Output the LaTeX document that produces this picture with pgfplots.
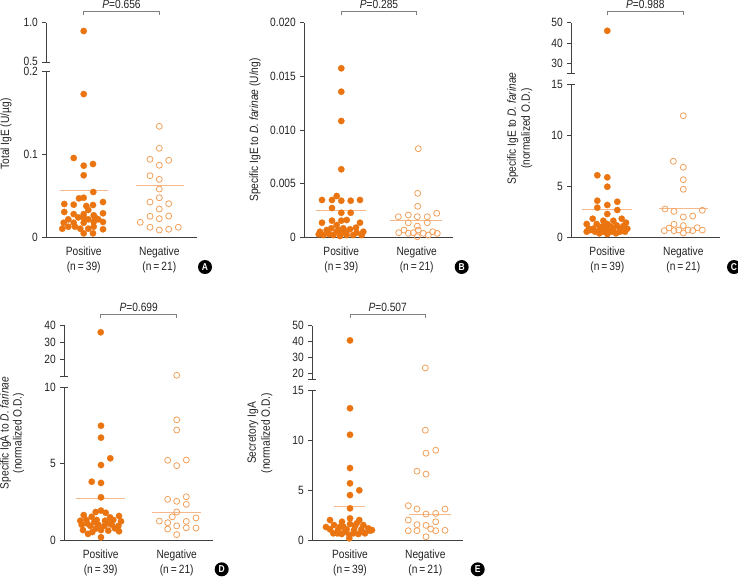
\documentclass[border=0pt]{standalone}
\usepackage{pgfplots}
\pgfplotsset{compat=1.18}
\usepackage{fontspec}
\setmainfont{Liberation Sans}[FakeStretch=0.85]
\definecolor{dotfill}{RGB}{234,116,16}
\definecolor{dotopen}{RGB}{242,160,90}
\definecolor{meanc}{RGB}{245,185,140}
\definecolor{axc}{RGB}{64,64,64}
\definecolor{txt}{RGB}{35,35,35}
\pgfplotsset{
  base/.style={scale only axis, anchor=south west, clip=false,
    axis line style={-, axc, line width=0.7pt},
    tick style={axc, line width=0.7pt},
    tick align=outside, major tick length=4pt,
    scaled y ticks=false,
    ticklabel style={font=\fontsize{12}{12}\selectfont, text=txt},
    yticklabel style={xshift=-1pt},
  },
  lower/.style={base, axis x line*=bottom, axis y line*=left,
    xtick style={draw=none},
    xticklabel style={align=center, font=\fontsize{12}{15}\selectfont, yshift=-2pt}},
  upper/.style={base, axis y line*=left, axis x line=none, xtick=\empty},
  pos/.style={only marks, mark=*, mark size=3.2pt, mark options={solid, fill=dotfill, draw=dotfill, line width=0.2pt}},
  neg/.style={only marks, mark=o, mark size=3pt, mark options={solid, draw=dotopen, line width=0.8pt}},
  meanl/.style={meanc, line width=0.8pt, no marks},
}
\newcommand{\brk}[2]{\draw[axc, line width=0.7pt] (#1-4,-#2) -- (#1+4,-#2);}
\newcommand{\pbr}[4]{\draw[gray, line width=0.6pt] (#1,-#3-4.3) -- (#1,-#3) -- (#2,-#3) -- (#2,-#3-4.3);
  \node[font=\fontsize{12}{12}\selectfont, text=txt] at ({(#1+#2)/2},-#3+6.5) {\textit{P}=#4};}
\newcommand{\plab}[3]{\node[circle, fill=black, inner sep=0pt, minimum size=14pt, text=white, font=\bfseries\fontsize{10}{10}\selectfont] at (#1,-#2) {#3};}
\begin{document}
\begin{tikzpicture}[x=1pt,y=1pt]
\useasboundingbox (0,0) rectangle (738,-579);
% ---------------- Panel A ----------------
\begin{axis}[lower, at={(46.3pt,-237.3pt)}, width=150.7pt, height=165.6pt,
  xmin=46.3, xmax=197, ymin=0, ymax=0.2,
  ytick={0,0.1,0.2}, yticklabels={0,0.1,\raisebox{-1.2pt}{0.2}},
  xtick={83.7,159.3}, xticklabels={Positive\\(n\,=\,39),Negative\\(n\,=\,21)}]
\addplot[meanl] coordinates {(60,0.0568) (107.7,0.0568)};
\addplot[meanl] coordinates {(136,0.0632) (183.7,0.0632)};
\addplot[pos] coordinates {(83.7,0.173) (73.7,0.0958) (83.7,0.0865) (93,0.0885) (83.7,0.0749) (93.3,0.0547)
(79,0.047) (83.7,0.0478) (64.3,0.0402) (73.7,0.0394) (86.3,0.0378) (93,0.039) (103,0.0426)
(88.3,0.033) (64.3,0.0306) (73.7,0.028) (83.7,0.028) (103,0.029) (93.7,0.0266)
(68.3,0.0217) (78.3,0.024) (83.7,0.024) (88.3,0.0217) (95,0.024) (98.3,0.0217)
(63.7,0.0176) (73.7,0.0176) (83.7,0.0176) (93.7,0.0185) (103,0.0185)
(62.3,0.0104) (68.3,0.0128) (75,0.0128) (80.3,0.0104) (88.3,0.0104) (93.7,0.0128) (103,0.0097)
(83.7,0.0048) (93,0.0048)};
\addplot[neg] coordinates {(159.3,0.134) (159.3,0.1075) (150,0.0942) (159.3,0.087) (168.7,0.093)
(150,0.0744) (159.3,0.070) (159.3,0.0583) (150,0.0426) (159.3,0.0478) (168.7,0.0406)
(159.3,0.0342) (150,0.0254) (159.3,0.0225) (168.7,0.0257) (140.3,0.0181) (150,0.0121)
(159.3,0.0088) (168.7,0.0097) (178.3,0.0121)};
\end{axis}
\begin{axis}[upper, at={(46.3pt,-62pt)}, width=150.7pt, height=39.3pt,
  xmin=46.3, xmax=197, ymin=0.5, ymax=1,
  ytick={0.5,1}, yticklabels={\raisebox{1.2pt}{0.5},1.0}]
\addplot[pos] coordinates {(83.7,0.894)};
\end{axis}
\brk{46.3}{62} \brk{46.3}{71.7}
\pbr{83.7}{159.3}{11}{0.656}
\node[rotate=90, font=\fontsize{12}{14}\selectfont, text=txt] at (6,-134) {Total IgE (U/µg)};
\plab{205}{267}{A}
% ---------------- Panel B ----------------
\begin{axis}[lower, at={(304.3pt,-237.3pt)}, width=149pt, height=214.6pt,
  xmin=304.3, xmax=453.3, ymin=0, ymax=0.02,
  ytick={0,0.005,0.01,0.015,0.02}, yticklabels={0,0.005,0.010,0.015,0.020},
  xtick={341.3,416.7}, xticklabels={Positive\\(n\,=\,39),Negative\\(n\,=\,21)}]
\addplot[meanl] coordinates {(316,0.00252) (366,0.00252)};
\addplot[meanl] coordinates {(390.3,0.00158) (442,0.00158)};
\addplot[pos] coordinates {(341.3,0.01575) (341.3,0.01357) (341.3,0.01084) (341.3,0.00634)
(322,0.00348) (332,0.00348) (336.7,0.00385) (341.3,0.00341) (350.7,0.00341) (360,0.00348)
(332,0.00273) (341.3,0.00229) (350.7,0.00229)
(322,0.00136) (332,0.00155) (341.3,0.00155) (336.7,0.00115) (346.7,0.00161) (360,0.00136)
(320,0.00052) (326.7,0.00068) (331.3,0.00084) (336.7,0.00052) (341.3,0.00037) (346,0.00052) (350,0.00075) (356.7,0.00043) (363.3,0.00052)
(323.3,0.00021) (333.3,0.00021) (340,0.00012) (346.7,0.00021) (353.3,0.00021) (361.7,0.00021) (338.3,0.00068) (343.3,0.00084) (318.7,0.00028)
(329,0.00030) (356,0.0009)};
\addplot[neg] coordinates {(418.3,0.00826) (417.7,0.0041) (417.7,0.00289)
(398.3,0.00192) (408.3,0.00208) (417.3,0.00192) (427.3,0.00192) (436.7,0.00224)
(408.3,0.00136) (417.3,0.00105) (427.3,0.00136)
(398.7,0.00043) (404,0.00068) (413.3,0.00043) (418.3,0.00068) (423.3,0.00037) (432.7,0.00052) (437.3,0.00037) (408.3,0.00037) (417.3,0.00006) (428.3,0.00021)};
\end{axis}
\pbr{341.3}{416.7}{11}{0.285}
\node[rotate=90, font=\fontsize{12}{14}\selectfont, text=txt] at (255,-130) {Specific IgE to \textit{D. farinae} (U/ng)};
\plab{461.7}{267}{B}
% ---------------- Panel C ----------------
\begin{axis}[lower, at={(571.3pt,-237.3pt)}, width=148.7pt, height=153.3pt,
  xmin=571.3, xmax=720, ymin=0, ymax=15,
  ytick={0,5,10,15}, yticklabels={0,5,10,15},
  xtick={607.3,683.3}, xticklabels={Positive\\(n\,=\,39),Negative\\(n\,=\,21)}]
\addplot[meanl] coordinates {(582,2.74) (632,2.74)};
\addplot[meanl] coordinates {(659,2.8) (708.3,2.8)};
\addplot[pos] coordinates {(597.3,6.07) (607.3,5.87) (607.3,4.95) (597.3,3.58) (607.3,3.16) (617.3,3.48) (597.3,2.9) (607.3,2.28) (617.3,2.67)
(592.7,1.82) (621.7,1.82) (603.3,1.62) (613.3,1.62) (626,1.43) (586.7,1.3) (596.7,1.3) (607.3,1.3) (616.7,1.17)
(588.7,0.84) (593.3,0.84) (600,0.84) (607.3,0.84) (613.3,0.84) (620,0.84) (627.3,0.84)
(586.7,0.55) (595,0.55) (603.3,0.55) (611.7,0.55) (620,0.55) (625,0.55)
(607.3,0.32) (599.3,0.39) (616,0.39) (590.7,0.71) (610.7,1.05) (623.3,1.1) (602,1.05)};
\addplot[neg] coordinates {(683.3,11.9) (673.3,7.44) (683.3,6.85) (683.3,5.64) (683.3,4.7) (665,2.77) (674,2.54) (702.3,2.64) (683.3,1.99) (692.7,2.08)
(674,1.27) (683.3,1.14) (669,0.91) (697.3,0.94) (664.3,0.65) (674,0.65) (678.7,0.71) (688,0.71) (692.7,0.65) (702.3,0.71) (683.3,0.42)};
\end{axis}
\begin{axis}[upper, at={(571.3pt,-73.3pt)}, width=148.7pt, height=50.6pt,
  xmin=571.3, xmax=720, ymin=25, ymax=50,
  ytick={30,40,50}, yticklabels={30,40,50}]
\addplot[pos] coordinates {(607.3,46)};
\end{axis}
\brk{571.3}{73.3} \brk{571.3}{84}
\pbr{607.3}{683.3}{11}{0.988}
\node[rotate=90, align=center, font=\fontsize{12}{14}\selectfont, text=txt] at (519.7,-128.5) {Specific IgE to \textit{D. farinae}\\(normalized O.D.)};
\plab{734}{267}{C}
% ---------------- Panel D ----------------
\begin{axis}[lower, at={(64.3pt,-540pt)}, width=149pt, height=153pt,
  xmin=64.3, xmax=213.3, ymin=0, ymax=10,
  ytick={0,5,10}, yticklabels={0,5,10},
  xtick={100.7,176.7}, xticklabels={Positive\\(n\,=\,39),Negative\\(n\,=\,21)}]
\addplot[meanl] coordinates {(75.7,2.7) (125,2.7)};
\addplot[meanl] coordinates {(151.7,1.83) (201.3,1.83)};
\addplot[pos] coordinates {(101,7.47) (101,6.69) (110.3,5.34) (101,4.9) (91.7,3.81) (101,3.73) (101,2.79)
(95.7,1.83) (101,1.92) (105.7,1.78) (83.7,1.63) (91.7,1.52) (110,1.48) (119,1.57)
(80.3,1.26) (86.3,1.31) (96.7,1.31) (105,1.26) (113.3,1.31) (121,1.22)
(81.7,1.0) (90.3,0.92) (98.3,1.0) (104.3,0.92) (111.7,1.0) (118.3,0.92)
(83,0.65) (92.3,0.52) (101,0.65) (108.3,0.61) (119,0.57) (101,0.18)
(87,1.09) (94.3,1.18) (109,1.09) (115,0.76) (96,0.75) (88,0.4)};
\addplot[neg] coordinates {(176.7,7.86) (176.7,7.19) (167.7,5.21) (176.7,4.86) (186.3,5.23) (167.7,2.66) (176.7,2.53) (186.3,2.83) (186.3,2.33)
(176.7,1.83) (172.3,1.52) (159.3,1.24) (167.7,1.13) (186.3,1.22) (196,1.44) (167.7,0.72) (176.7,0.92) (186.3,0.8) (196,0.78) (176.7,0.35)};
\end{axis}
\begin{axis}[upper, at={(64.3pt,-376.3pt)}, width=149pt, height=51pt,
  xmin=64.3, xmax=213.3, ymin=10, ymax=40,
  ytick={20,30,40}, yticklabels={20,30,40}]
\addplot[pos] coordinates {(100.7,35.9)};
\addplot[neg] coordinates {(176.7,10.6)};
\end{axis}
\brk{64.3}{376.3} \brk{64.3}{387}
\pbr{100.7}{176.7}{314}{0.699}
\node[rotate=90, align=center, font=\fontsize{12}{13}\selectfont, text=txt] at (12,-433) {Specific IgA to \textit{D. farinae}\\(normalized O.D.)};
\plab{221.7}{569.3}{D}
% ---------------- Panel E ----------------
\begin{axis}[lower, at={(312.3pt,-540pt)}, width=150.4pt, height=149.7pt,
  xmin=312.3, xmax=462.7, ymin=0, ymax=15,
  ytick={0,5,10,15}, yticklabels={0,5,10,15},
  xtick={350,425.3}, xticklabels={Positive\\(n\,=\,39),Negative\\(n\,=\,21)}]
\addplot[meanl] coordinates {(334,3.4) (365,3.4)};
\addplot[meanl] coordinates {(409,2.57) (450.7,2.57)};
\addplot[pos] coordinates {(350,13.2) (350,10.55) (350,7.21) (350,5.68) (350,4.5) (359.3,4.98) (350,3.17)
(330,2.0) (342,1.83) (350,2.17) (359.3,2.0) (334,1.5) (343.3,1.33) (350,1.6) (356.7,1.67) (363.3,1.5)
(330,1.07) (338,1.0) (346.7,1.07) (354,1.0) (361.3,1.07) (370,0.93)
(333.3,0.67) (341.7,0.6) (349.3,0.5) (358.3,0.6) (365,0.67) (349.3,0.17)
(337.3,0.67) (353.3,0.67) (361.7,0.83) (345,0.83) (368.3,1.17) (340,1.33)
(326,1.3) (372,1.0) (355,1.4)};
\addplot[neg] coordinates {(425.3,11.0) (426,8.7) (435.7,9.0) (417,6.9) (426,6.6) (408.3,3.44) (417,3.1) (426,2.6) (435.7,2.67) (445,3.1)
(408.3,2.0) (417,1.54) (426,1.47) (435.7,1.83) (408.3,0.93) (417,0.93) (430.7,1.1) (435.7,0.93) (445,0.97) (426,0.33)};
\end{axis}
\begin{axis}[upper, at={(312.3pt,-379.3pt)}, width=150.4pt, height=53.6pt,
  xmin=312.3, xmax=462.7, ymin=16.5, ymax=50,
  ytick={20,30,40,50}, yticklabels={20,30,40,50}]
\addplot[pos] coordinates {(350,40.8)};
\addplot[neg] coordinates {(425.3,23.6)};
\end{axis}
\brk{312.3}{379.3} \brk{312.3}{390.3}
\pbr{350}{425.3}{314}{0.507}
\node[rotate=90, align=center, font=\fontsize{12}{14}\selectfont, text=txt] at (260,-433) {Secretory IgA\\(normalized O.D.)};
\plab{477.7}{569.3}{E}
\end{tikzpicture}
\end{document}
